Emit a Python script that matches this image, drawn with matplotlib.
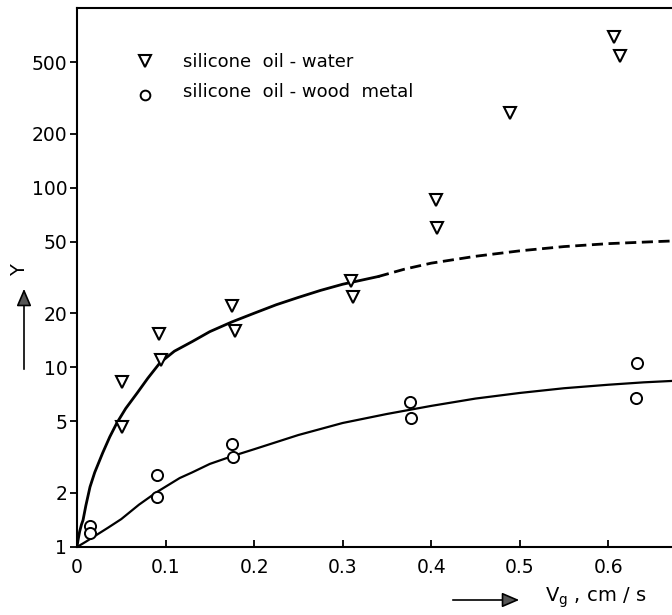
import matplotlib
matplotlib.use("Agg")
import matplotlib.pyplot as plt
from matplotlib.ticker import FixedLocator, FixedFormatter, NullLocator

plt.rcParams['font.family'] = ['DejaVu Sans']

# silicone oil - water (triangles)
water_x = [0.051, 0.051, 0.0925, 0.095, 0.175, 0.178, 0.309, 0.3115, 0.406, 0.407, 0.489, 0.607, 0.613]
water_y = [8.3, 4.66, 15.4, 11.0, 22.0, 16.0, 30.3, 24.7, 85.7, 59.8, 262, 694, 544]

# silicone oil - wood metal (circles)
wood_x = [0.0147, 0.0147, 0.0903, 0.0903, 0.175, 0.176, 0.376, 0.377, 0.632, 0.631]
wood_y = [1.31, 1.20, 2.52, 1.90, 3.75, 3.17, 6.42, 5.23, 10.6, 6.77]

# fitted curves
water_fit_x = [0, 0.001, 0.003, 0.005, 0.0068, 0.01, 0.0147, 0.02, 0.029, 0.037, 0.045, 0.055,
               0.068, 0.08, 0.0937, 0.11, 0.13, 0.15, 0.175, 0.2, 0.225, 0.25, 0.275, 0.3, 0.34]
water_fit_y = [1, 1.08, 1.22, 1.33, 1.41, 1.7, 2.16, 2.6, 3.34, 4.1, 4.9, 5.9,
               7.2, 8.7, 10.6, 12.3, 13.9, 15.8, 17.9, 20, 22.3, 24.5, 26.8, 29, 32]
water_ext_x = [0.34, 0.37, 0.4, 0.45, 0.5, 0.55, 0.6, 0.65, 0.672]
water_ext_y = [32, 35.2, 38, 41.5, 44.5, 47, 48.8, 50, 50.5]
wood_fit_x = [0, 0.01, 0.02, 0.035, 0.05, 0.07, 0.09, 0.116, 0.13, 0.15, 0.175, 0.2, 0.25, 0.3,
              0.35, 0.4, 0.45, 0.5, 0.55, 0.6, 0.64, 0.672]
wood_fit_y = [1, 1.07, 1.15, 1.28, 1.43, 1.72, 2.02, 2.42, 2.6, 2.9, 3.2, 3.5, 4.2, 4.9,
              5.5, 6.1, 6.7, 7.2, 7.65, 8.0, 8.25, 8.4]

y_ticks = [1, 2, 5, 10, 20, 50, 100, 200, 500]
y_labels = ['1', '2', '5', '10', '20', '50', '100', '200', '500']
x_ticks = [0, 0.1, 0.2, 0.3, 0.4, 0.5, 0.6]
x_labels = ['0', '0.1', '0.2', '0.3', '0.4', '0.5', '0.6']

W, H = 672, 615
fig = plt.figure(figsize=(W / 100, H / 100), dpi=100)
ax = fig.add_axes([77 / W, 1 - 547 / H, 1 - 77 / W, (547 - 8) / H])
ax.set_yscale('log')
ax.set_xlim(0, 0.672)
ax.set_ylim(1, 1000)

ax.plot(water_fit_x, water_fit_y, color='black', lw=2.0)
ax.plot(water_ext_x, water_ext_y, color='black', lw=2.0, ls=(0, (4, 2)))
ax.plot(wood_fit_x, wood_fit_y, color='black', lw=1.6)

ax.plot(water_x, water_y, ls='none', marker='v', ms=9, mfc='white', mec='black', mew=1.5, clip_on=False)
ax.plot(wood_x, wood_y, ls='none', marker='o', ms=8, mfc='white', mec='black', mew=1.4, clip_on=False)

# legend
ax.plot([0.077], [510], ls='none', marker='v', ms=9, mfc='white', mec='black', mew=1.5)
ax.plot([0.077], [330], ls='none', marker='o', ms=7, mfc='white', mec='black', mew=1.4)
ax.text(0.120, 500, 'silicone  oil - water', fontsize=13, va='center', ha='left')
ax.text(0.120, 340, 'silicone  oil - wood  metal', fontsize=13, va='center', ha='left')

for s in ['left', 'top', 'bottom']:
    ax.spines[s].set_linewidth(1.5)
ax.spines['right'].set_visible(False)

ax.yaxis.set_major_locator(FixedLocator(y_ticks))
ax.yaxis.set_major_formatter(FixedFormatter(y_labels))
ax.yaxis.set_minor_locator(NullLocator())
ax.xaxis.set_major_locator(FixedLocator(x_ticks))
ax.xaxis.set_major_formatter(FixedFormatter(x_labels))
ax.tick_params(axis='y', direction='out', length=5, width=1.3, labelsize=13.5, pad=2)
ax.tick_params(axis='x', direction='in', length=5, width=1.3, labelsize=13.5, pad=8)

# axis labels with arrows
fig.text(20 / W, 1 - 270 / H, 'Y', rotation=90, fontsize=14, ha='center', va='center')
fig.patches.append(matplotlib.patches.FancyArrowPatch(
    (24 / W, 1 - 372 / H), (24 / W, 1 - 286 / H), transform=fig.transFigure,
    arrowstyle='-|>,head_length=7,head_width=3', lw=1.2, color='black', mutation_scale=1.5,
    fc='#555555'))
fig.patches.append(matplotlib.patches.FancyArrowPatch(
    (450 / W, 1 - 600 / H), (522 / W, 1 - 600 / H), transform=fig.transFigure,
    arrowstyle='-|>,head_length=7,head_width=3', lw=1.2, color='black', mutation_scale=1.5,
    fc='#555555'))
fig.text(545 / W, 1 - 598 / H, r'V$_{\mathregular{g}}$ , cm / s', fontsize=14, ha='left', va='center')

fig.savefig('out.png', dpi=100)
